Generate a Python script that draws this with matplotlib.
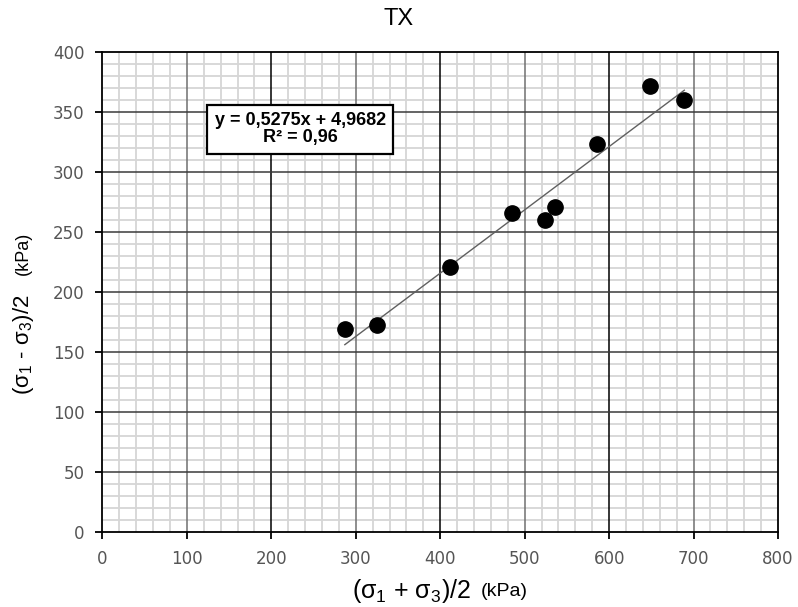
import numpy as np
import matplotlib
matplotlib.use("Agg")
import matplotlib.pyplot as plt
from matplotlib.ticker import MultipleLocator

# data
x_vals = [287, 325, 412, 485, 524, 536, 586, 648, 689]
y_vals = [169, 173, 221, 266, 260, 271, 324, 372, 360]
slope = 0.5275
intercept = 4.9682
r2_text = "0,96"

plt.rcParams['font.family'] = ['Liberation Sans', 'DejaVu Sans']
plt.rcParams['mathtext.default'] = 'regular'

fig = plt.figure(figsize=(7.98, 6.07), dpi=100)
ax = fig.add_axes([0.1284, 0.1231, 0.8466, 0.7907])

ax.set_xlim(0, 800)
ax.set_ylim(0, 400)
ax.xaxis.set_major_locator(MultipleLocator(100))
ax.yaxis.set_major_locator(MultipleLocator(50))
ax.xaxis.set_minor_locator(MultipleLocator(20))
ax.yaxis.set_minor_locator(MultipleLocator(10))

# grid
ax.grid(which='minor', color='#d6d6d6', linewidth=1.3)
for gx in range(100, 800, 100):
    c = 'black' if gx % 200 == 0 else '#707070'
    ax.axvline(gx, color=c, linewidth=1.1, zorder=1)
for gy in range(50, 400, 50):
    ax.axhline(gy, color='#3a3a3a', linewidth=1.1, zorder=1)
ax.set_axisbelow(True)

for sp in ax.spines.values():
    sp.set_linewidth(1.3)
    sp.set_zorder(3)

ax.tick_params(which='major', direction='out', length=5, width=1.3, colors='black',
               labelcolor='#555555', labelsize=12, pad=8)
ax.tick_params(which='minor', length=0)
for lab in ax.get_xticklabels() + ax.get_yticklabels():
    lab.set_family('DejaVu Sans')

# trend line
xl = np.array([min(x_vals), max(x_vals)])
ax.plot(xl, slope * xl + intercept, color='#606060', linewidth=1.0, zorder=4)
ax.plot(x_vals, y_vals, 'o', color='black', ms=11, zorder=5)

eq = "y = %sx + %s\nR² = %s" % (str(slope).replace('.', ','), str(intercept).replace('.', ','), r2_text)
ax.text(234, 336, eq, ha='center', va='center', fontsize=13, fontweight='bold',
        linespacing=1.05, zorder=6,
        bbox=dict(boxstyle='square,pad=0.4', facecolor='white', edgecolor='black', linewidth=1.6))

fig.text(0.5, 0.968, "TX", ha='center', va='center', fontsize=17)
fig.text(471 / 798, 0.026, "(σ$_1$ + σ$_3$)/2", ha='right', va='center', fontsize=18)
fig.text(481 / 798, 0.026, "(kPa)", ha='left', va='center', fontsize=14)
fig.text(0.029, 1 - 395 / 607, "(σ$_1$ - σ$_3$)/2", rotation=90,
         ha='center', va='bottom', fontsize=16)
fig.text(0.029, 1 - 232 / 607, "(kPa)", rotation=90,
         ha='center', va='top', fontsize=13)

plt.savefig("out.png", dpi=100)
